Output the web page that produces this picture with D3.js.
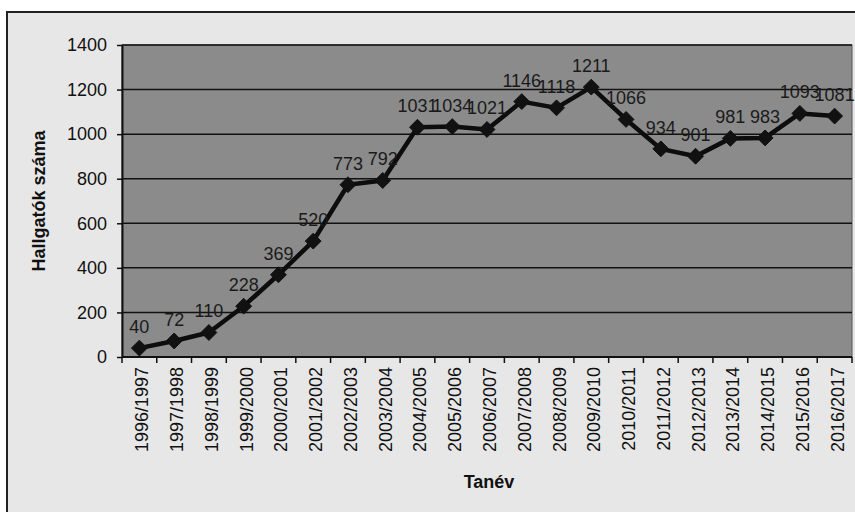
<!DOCTYPE html>
<html>
<head>
<meta charset="utf-8">
<script src="https://cdn.jsdelivr.net/npm/d3@7"></script>
<style>
  body { margin: 0; background: #ffffff; }
  text { font-family: "Liberation Sans", Arial, sans-serif; }
</style>
</head>
<body>
<svg id="drawing_region"></svg>
<script>
const categories = ['1996/1997','1997/1998','1998/1999','1999/2000','2000/2001','2001/2002','2002/2003',
  '2003/2004','2004/2005','2005/2006','2006/2007','2007/2008','2008/2009','2009/2010','2010/2011',
  '2011/2012','2012/2013','2013/2014','2014/2015','2015/2016','2016/2017']
const students = [40, 72, 110, 228, 369, 520, 773, 792, 1031, 1034, 1021, 1146, 1118, 1211, 1066,
  934, 901, 981, 983, 1093, 1081]
const y_ticks = [0, 200, 400, 600, 800, 1000, 1200, 1400]

const width = 855, height = 512
const plot = {left: 122, right: 852, top: 45, bottom: 357}

const svg = d3.select('#drawing_region')
  .attr('width', width)
  .attr('height', height)

// page + outer chart frame
svg.append('rect').attr('width', width).attr('height', height).attr('fill', '#ffffff')
svg.append('rect')
  .attr('x', 7).attr('y', 12)
  .attr('width', 860).attr('height', 520)
  .attr('fill', '#e7e7e7')
  .attr('stroke', '#222').attr('stroke-width', 2)

// plot area
svg.append('rect')
  .attr('x', plot.left).attr('y', plot.top)
  .attr('width', plot.right - plot.left).attr('height', plot.bottom - plot.top)
  .attr('fill', '#8b8b8b')
  .attr('stroke', '#555').attr('stroke-width', 1)

const xscale = d3.scaleBand().domain(categories).range([plot.left, plot.right]).padding(0)
const yscale = d3.scaleLinear().domain([0, 1400]).range([plot.bottom, plot.top])

// gridlines
svg.append('g').selectAll('line').data(y_ticks.filter(d => d > 0)).join('line')
  .attr('x1', plot.left).attr('x2', plot.right)
  .attr('y1', d => yscale(d)).attr('y2', d => yscale(d))
  .attr('stroke', '#111').attr('stroke-width', 1.5)

// y axis
const yaxis = d3.axisLeft(yscale).tickValues(y_ticks).tickFormat(d3.format('d')).tickSize(5).tickSizeOuter(0)
const yg = svg.append('g').attr('transform', `translate(${plot.left},0)`).call(yaxis)
yg.select('.domain').attr('stroke', '#111').attr('stroke-width', 2)
yg.selectAll('.tick line').attr('stroke', '#111').attr('stroke-width', 1.5)
yg.selectAll('.tick text')
  .attr('x', -15)
  .attr('fill', '#111')
  .attr('font-size', 18)
  .style('font-family', '"Liberation Sans", Arial, sans-serif')

// x axis: ticks on band edges
const xg = svg.append('g')
xg.append('line')
  .attr('x1', plot.left).attr('x2', plot.right)
  .attr('y1', plot.bottom).attr('y2', plot.bottom)
  .attr('stroke', '#111').attr('stroke-width', 2)
xg.selectAll('line.tick').data(categories.concat(['end'])).join('line')
  .attr('class', 'tick')
  .attr('x1', (d, i) => i < categories.length ? xscale(d) : plot.right)
  .attr('x2', (d, i) => i < categories.length ? xscale(d) : plot.right)
  .attr('y1', plot.bottom).attr('y2', plot.bottom + 6)
  .attr('stroke', '#111').attr('stroke-width', 1.5)
xg.selectAll('text').data(categories).join('text')
  .attr('transform', d => `translate(${xscale(d) + xscale.bandwidth() / 2},${plot.bottom + 10}) rotate(-90)`)
  .attr('text-anchor', 'end')
  .attr('dy', '0.5em')
  .attr('font-size', 18)
  .attr('fill', '#111')
  .text(d => d)

// line
const cx = d => xscale(d) + xscale.bandwidth() / 2
const line = d3.line().x((d, i) => cx(categories[i])).y(d => yscale(d))
svg.append('path')
  .datum(students)
  .attr('d', line)
  .attr('fill', 'none')
  .attr('stroke', '#0d0d0d')
  .attr('stroke-width', 4.5)
  .attr('stroke-linejoin', 'round')

// diamond markers
svg.append('g').selectAll('path').data(students).join('path')
  .attr('d', d3.symbol().type(d3.symbolDiamond2).size(160))
  .attr('transform', (d, i) => `translate(${cx(categories[i])},${yscale(d)})`)
  .attr('fill', '#111')
  .attr('stroke', '#111')
  .attr('stroke-width', 1)

// data labels
svg.append('g').selectAll('text').data(students).join('text')
  .attr('x', (d, i) => cx(categories[i]))
  .attr('y', d => yscale(d) - 15)
  .attr('text-anchor', 'middle')
  .attr('font-size', 18)
  .attr('fill', '#1a1a1a')
  .text(d => d)

// axis titles
svg.append('text')
  .attr('x', 489).attr('y', 488)
  .attr('text-anchor', 'middle')
  .attr('font-size', 18)
  .attr('font-weight', 'bold')
  .attr('fill', '#111')
  .text('Tanév')

svg.append('text')
  .attr('transform', 'translate(45,201) rotate(-90)')
  .attr('text-anchor', 'middle')
  .attr('font-size', 18)
  .attr('font-weight', 'bold')
  .attr('fill', '#111')
  .text('Hallgatók száma')
</script>
</body>
</html>
